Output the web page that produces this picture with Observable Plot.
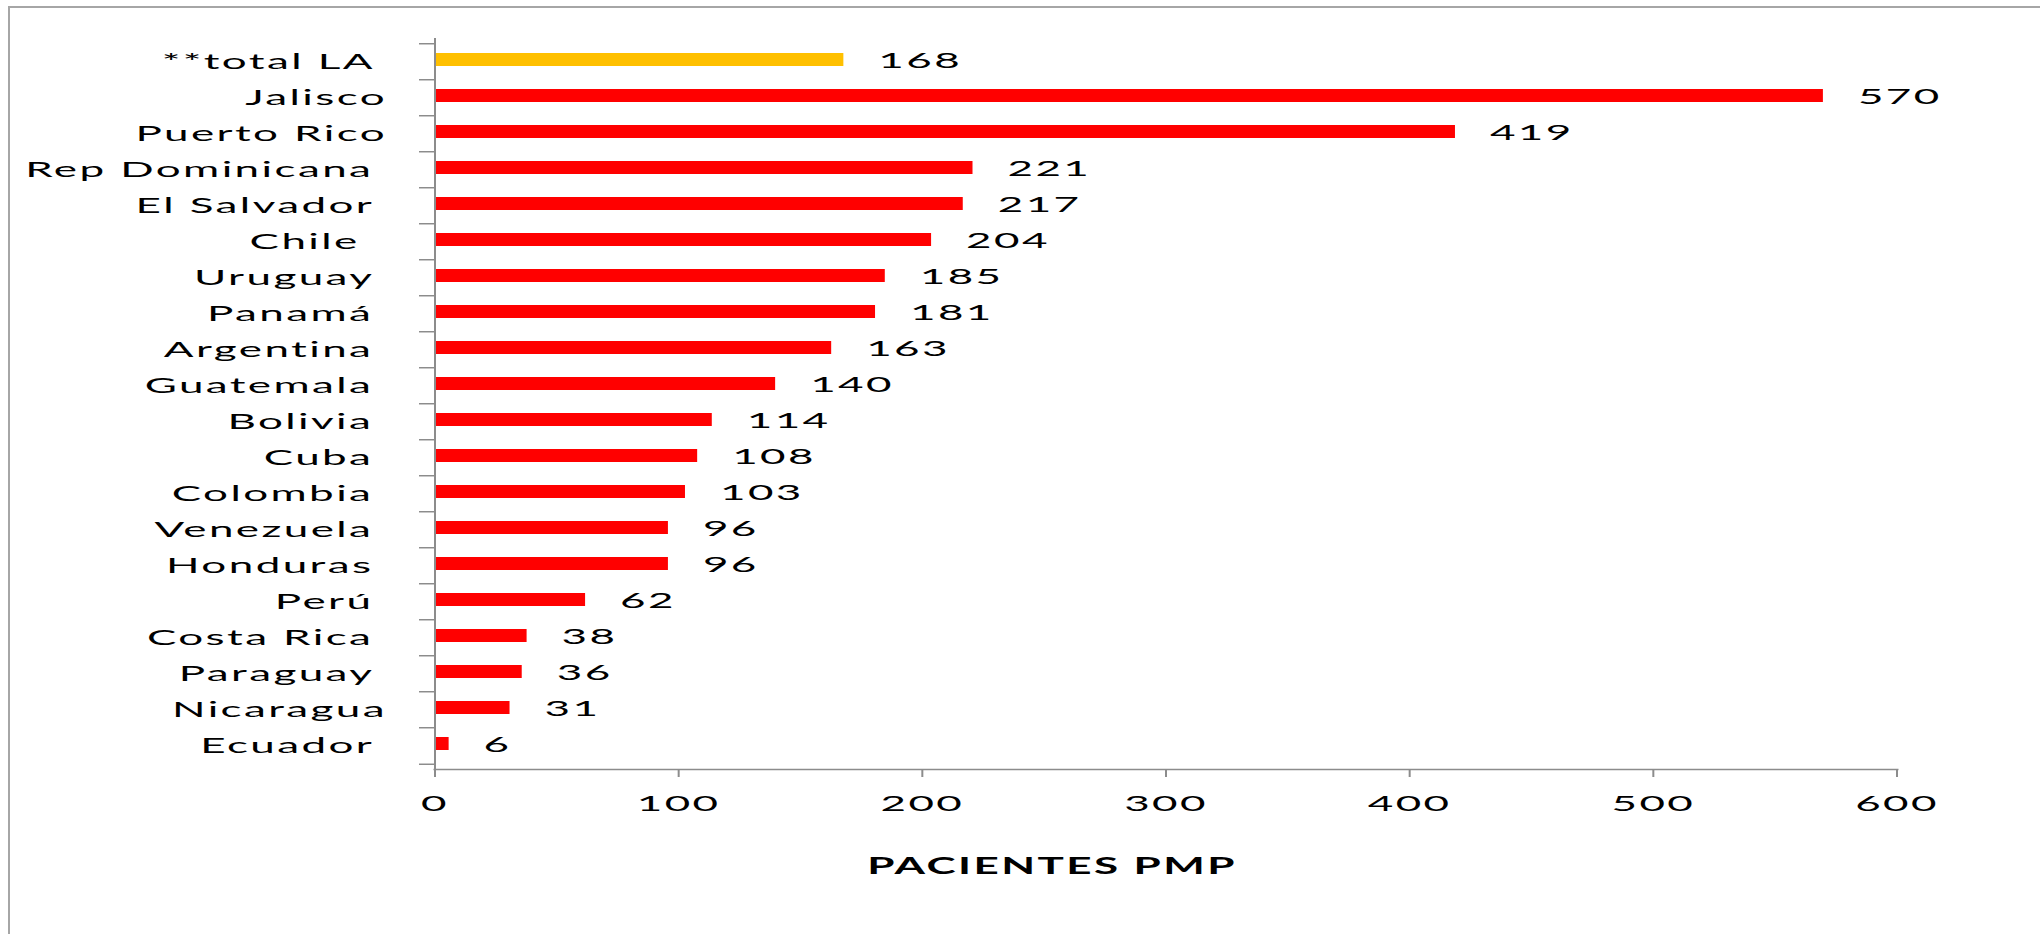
<!DOCTYPE html>
<html>
<head>
<meta charset="utf-8">
<script src="https://cdn.jsdelivr.net/npm/d3@7"></script>
<script src="https://cdn.jsdelivr.net/npm/@observablehq/plot@0.6"></script>
<style>
  html, body { margin: 0; padding: 0; background: #fff; overflow: hidden; }
  #wrap { position: relative; width: 2040px; height: 934px; overflow: hidden; }
  #border { position: absolute; left: 8px; top: 6px; width: 2100px; height: 1000px; border: 2px solid #a6a6a6; box-sizing: border-box; }
  #chart { position: absolute; left: 0; top: 0; }
  #chart svg text { white-space: pre; letter-spacing: 1.2px; }
</style>
</head>
<body>
<div id="wrap"><div id="border"></div><div id="chart"></div></div>
<script>
// Data
const categories = ["**total LA ", "Jalisco", "Puerto Rico", "Rep Dominicana ", "El Salvador ", "Chile  ", "Uruguay ", "Panamá ", "Argentina ", "Guatemala ", "Bolivia ", "Cuba ", "Colombia ", "Venezuela ", "Honduras ", "Perú ", "Costa Rica ", "Paraguay ", "Nicaragua", "Ecuador "];
const values = [168, 570, 419, 221, 217, 204, 185, 181, 163, 140, 114, 108, 103, 96, 96, 62, 38, 36, 31, 6];
const groups = ["total", "país", "país", "país", "país", "país", "país", "país", "país", "país", "país", "país", "país", "país", "país", "país", "país", "país", "país", "país"];
const xTicks = [0, 100, 200, 300, 400, 500, 600];
const xLabel = "PACIENTES PMP";

const data = categories.map((name, i) => ({name, value: values[i], group: groups[i]}));

const W = 1020, H = 934, S = 2; // drawn at half width, stretched horizontally x2
const mTop = 38, mBottom = 165, mLeft = 217, mRight = 72;
const step = (H - mTop - mBottom) / categories.length;
const gray = "#8c8c8c";

const svg = Plot.plot({
  width: W,
  height: H,
  marginTop: mTop,
  marginBottom: mBottom,
  marginLeft: mLeft,
  marginRight: mRight,
  style: {fontFamily: "Lato, 'Liberation Sans', sans-serif", fontSize: "22px", color: "#000", background: "transparent"},
  x: {domain: [0, 600], label: null},
  y: {domain: categories, paddingInner: 0.636, paddingOuter: 0.318, label: null},
  color: {domain: ["total", "país"], range: ["#FFC000", "#FF0000"]},
  marks: [
    Plot.barX(data, {x: "value", y: "name", fill: "group", dy: -2}),
    Plot.text(data, {x: "value", y: "name", text: d => String(d.value), dx: 17, dy: -1, textAnchor: "start", fontSize: 22, fill: "#000"}),
    // category boundary ticks on the y axis
    Plot.ruleY(categories, {y: d => d, x1: 0, x2: 0, insetLeft: -7.5, dy: -step / 2, stroke: gray, strokeWidth: 1.5}),
    Plot.ruleY(categories.slice(-1), {y: d => d, x1: 0, x2: 0, insetLeft: -7.5, dy: step / 2, stroke: gray, strokeWidth: 1.5}),
    Plot.frame({anchor: "left", stroke: gray, strokeWidth: 1}),
    Plot.frame({anchor: "bottom", stroke: gray, strokeWidth: 1.5}),
    Plot.axisY({tickSize: 0, tickPadding: 24, fontSize: 22, label: null}),
    Plot.axisX({ticks: xTicks, tickSize: 8, tickPadding: 18, fontSize: 22, stroke: gray, label: null, tickFormat: d => String(d)}),
    Plot.text([xLabel], {frameAnchor: "bottom", dx: -57, dy: 104, fontWeight: "bold", fontSize: 22, fill: "#000"})
  ]
});

svg.setAttribute("width", W * S);
svg.setAttribute("height", H);
svg.setAttribute("preserveAspectRatio", "none");
svg.style.maxWidth = "none";
svg.style.width = (W * S) + "px";
svg.style.height = H + "px";
document.getElementById("chart").appendChild(svg);
</script>
</body>
</html>
